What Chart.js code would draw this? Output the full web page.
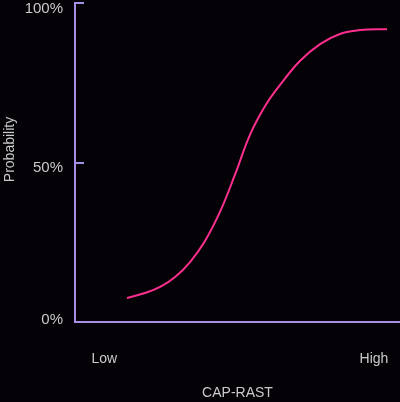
<!DOCTYPE html>
<html>
<head>
<meta charset="utf-8">
<script src="https://cdn.jsdelivr.net/npm/chart.js@4/dist/chart.umd.min.js"></script>
<style>
  html, body { margin: 0; padding: 0; background: #040206; }
  #wrap { width: 400px; height: 402px; }
</style>
</head>
<body>
<div id="wrap"><canvas id="chart"></canvas></div>
<script>
// CAP-RAST level (0 = low end, 100 = high end) vs probability in %
const capRast = [16, 21.5, 26.2, 30.8, 35.4, 40, 44.6, 49.2, 53.8, 58.5, 63.1, 69.2, 75.4, 81.5, 87.7, 96];
const probability = [7.5, 9.1, 11, 14.1, 18.8, 25.4, 34.5, 46.1, 58.6, 67.7, 74.3, 81.8, 87.1, 90.3, 91.5, 91.8];
const yTicks = [0, 50, 100];
const xTicks = [9, 92];
const xTickLabels = ["Low", "High"];

const textColor = "#cacaca";
const axisColor = "#a88fe6";

// y axis labels, inward ticks and rotated title
const yAxisDecor = {
  id: "yAxisDecor",
  afterDraw(chart) {
    const ctx = chart.ctx;
    const y = chart.scales.y;
    const area = chart.chartArea;
    const labelShift = { 0: -2, 50: 5, 100: 6 };
    ctx.save();
    ctx.strokeStyle = axisColor;
    ctx.lineWidth = 2;
    ctx.fillStyle = textColor;
    ctx.font = "15px 'Liberation Sans'";
    ctx.textAlign = "right";
    ctx.textBaseline = "middle";
    yTicks.forEach(v => {
      const py = Math.round(y.getPixelForValue(v));
      if (v !== 0) {
        ctx.beginPath();
        ctx.moveTo(area.left, py);
        ctx.lineTo(area.left + 9, py);
        ctx.stroke();
      }
      ctx.fillText(v + "%", area.left - 12, py + labelShift[v]);
    });
    ctx.translate(10, (area.top + area.bottom) / 2 - 13);
    ctx.rotate(-Math.PI / 2);
    ctx.textAlign = "center";
    ctx.font = "14px 'Liberation Sans'";
    ctx.fillText("Probability", 0, 0);
    ctx.restore();
  }
};

const ctx = document.getElementById("chart").getContext("2d");
new Chart(ctx, {
  type: "line",
  data: {
    datasets: [
      {
        data: capRast.map((x, i) => ({ x: x, y: probability[i] })),
        borderColor: "#ff2f8f",
        borderWidth: 2,
        pointRadius: 0,
        tension: 0.4,
        fill: false,
      },
    ],
  },
  options: {
    responsive: true,
    maintainAspectRatio: false,
    animation: false,
    layout: { padding: { top: 3, right: 0, left: 0, bottom: 0 } },
    plugins: { legend: { display: false }, tooltip: { enabled: false } },
    scales: {
      x: {
        type: "linear",
        min: 0,
        max: 100,
        afterBuildTicks: (scale) => {
          scale.ticks = xTicks.map(v => ({ value: v }));
        },
        afterFit: (scale) => {
          scale.height = 80;
          scale.paddingLeft = 0;
          scale.paddingRight = 0;
        },
        ticks: {
          autoSkip: false,
          maxRotation: 0,
          padding: 29,
          color: textColor,
          font: { family: "Liberation Sans", size: 14 },
          callback: (v) => xTickLabels[xTicks.indexOf(v)],
        },
        grid: { display: false, drawTicks: false },
        border: { display: true, color: axisColor, width: 2 },
        title: {
          display: true,
          text: "CAP-RAST",
          color: textColor,
          font: { family: "Liberation Sans", size: 14 },
          padding: { top: 0, bottom: 0 },
        },
      },
      y: {
        min: 0,
        max: 100,
        afterBuildTicks: (scale) => {
          scale.ticks = yTicks.map(v => ({ value: v }));
        },
        afterFit: (scale) => {
          scale.width = 75;
        },
        ticks: { display: false },
        grid: { display: false, drawTicks: false },
        border: { display: true, color: axisColor, width: 2 },
      },
    },
  },
  plugins: [yAxisDecor],
});
</script>
</body>
</html>
